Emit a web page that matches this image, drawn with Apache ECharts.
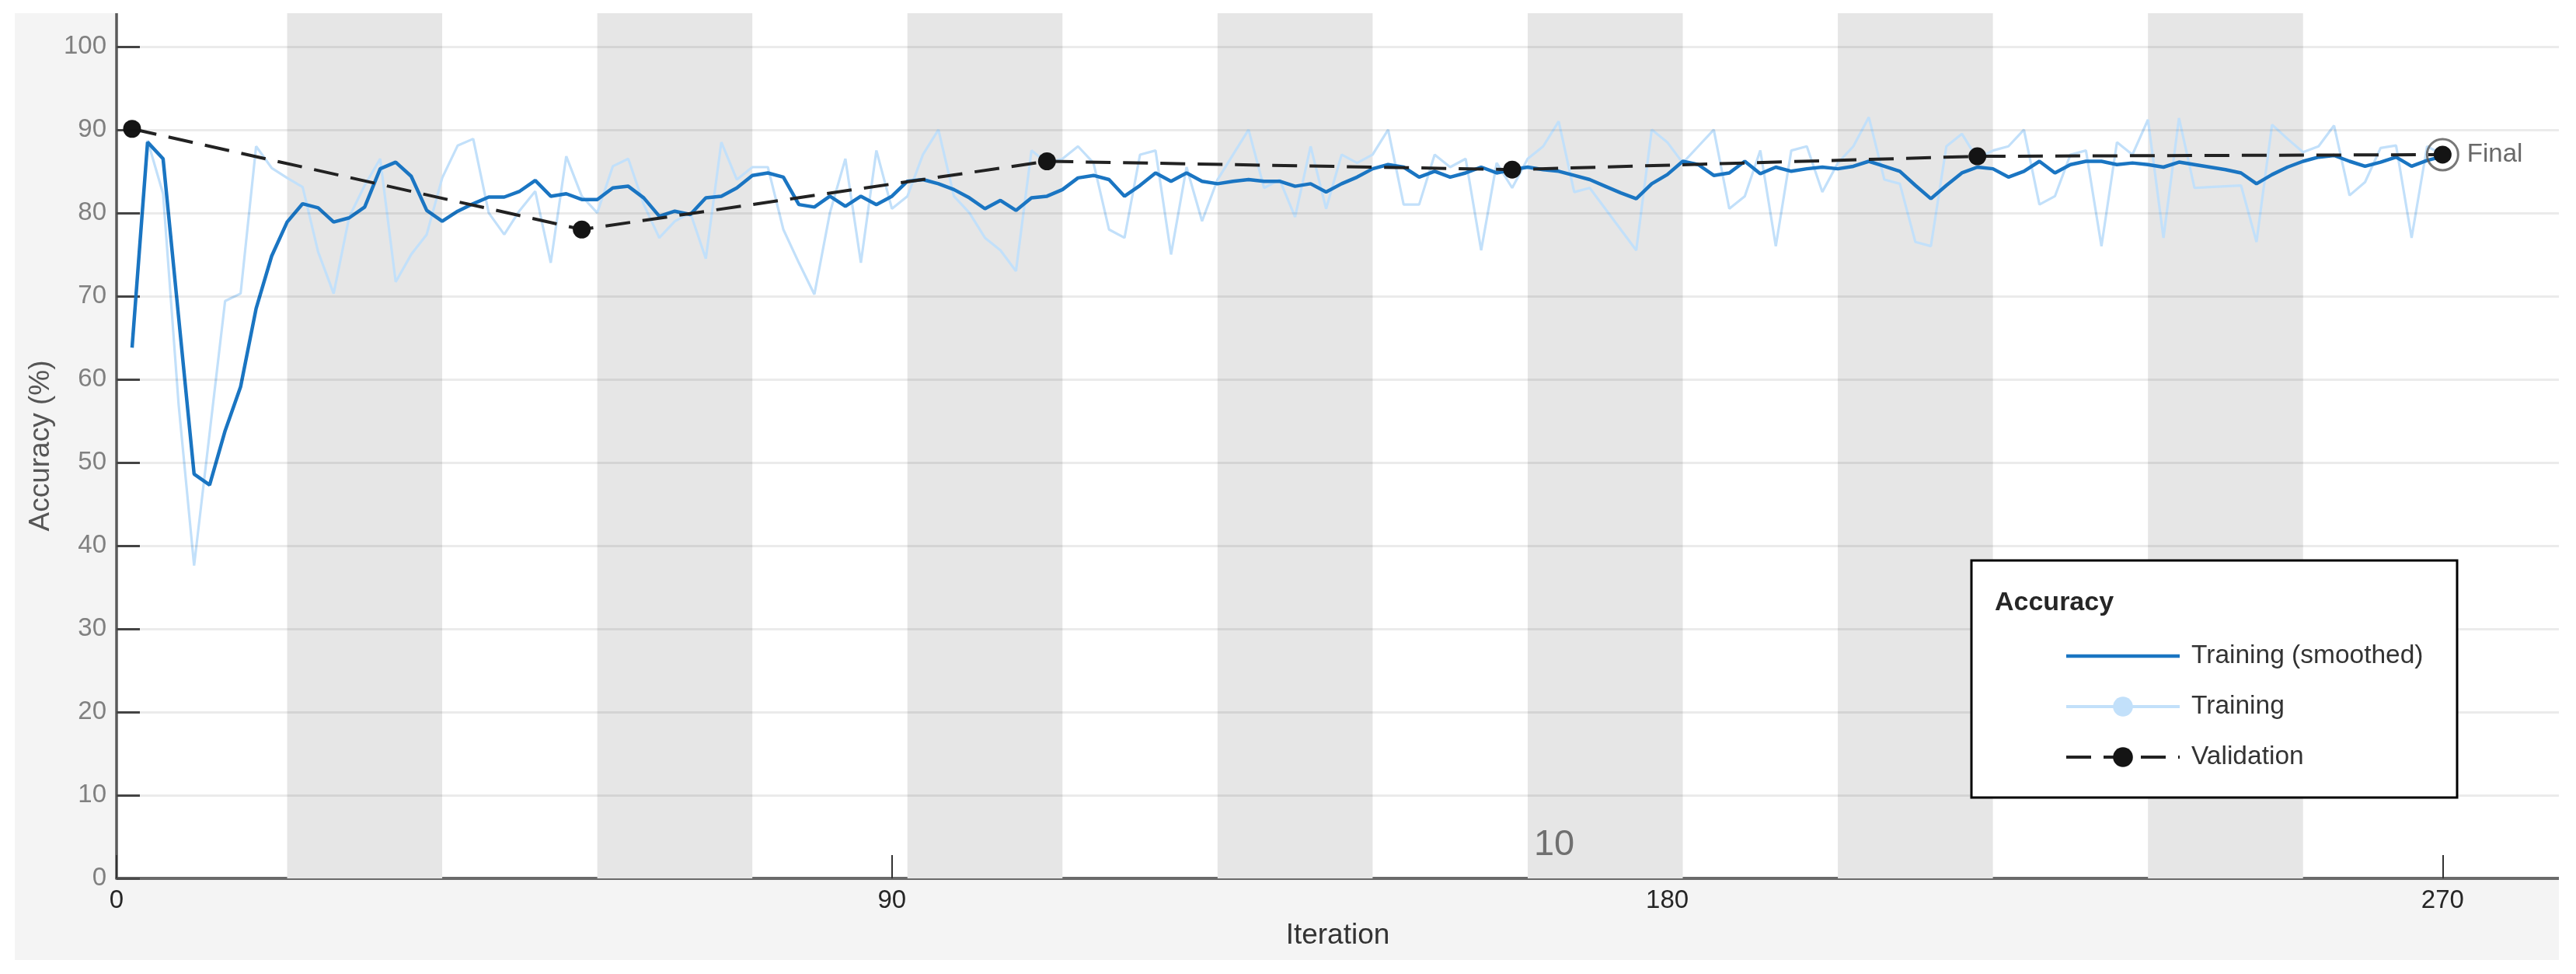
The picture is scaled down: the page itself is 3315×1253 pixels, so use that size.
<!DOCTYPE html>
<html><head><meta charset="utf-8">
<script src="https://cdn.jsdelivr.net/npm/echarts@6/dist/echarts.min.js"></script>
<style>html,body{margin:0;padding:0;background:#fff}#c{width:3315px;height:1253px}</style>
</head><body><div id="c"></div><script>
// ---- data ----
const ITER_STEP = 1.8; // iterations between logged points
const smoothedAcc = [
63.8,88.5,86.5,67.5,48.6,47.3,53.8,59.1,68.5,74.8,
78.9,81.1,80.6,78.9,79.4,80.7,85.3,86.1,84.4,80.3,
79.0,80.2,81.1,81.9,81.9,82.6,83.9,82.0,82.3,81.6,
81.6,83.0,83.2,81.8,79.6,80.2,79.8,81.8,82.0,83.0,
84.5,84.8,84.3,81.0,80.7,82.0,80.8,82.0,81.0,82.0,
83.8,84.0,83.5,82.8,81.8,80.5,81.5,80.3,81.8,82.0,
82.8,84.2,84.5,84.0,82.0,83.3,84.8,83.8,84.8,83.8,
83.5,83.8,84.0,83.8,83.8,83.2,83.5,82.5,83.5,84.3,
85.3,85.8,85.5,84.3,85.0,84.3,84.8,85.5,84.8,85.2,
85.5,85.2,85.0,84.5,84.0,83.2,82.4,81.7,83.5,84.6,
86.2,85.8,84.5,84.8,86.2,84.7,85.5,85.0,85.3,85.5,
85.3,85.6,86.2,85.6,85.0,83.3,81.7,83.3,84.8,85.5,
85.3,84.3,85.0,86.2,84.8,85.8,86.2,86.2,85.8,86.0,
85.8,85.5,86.1,85.8,85.5,85.2,84.8,83.5,84.6,85.5,
86.2,86.7,86.9,86.2,85.6,86.1,86.7,85.6,86.3,86.8];
const trainingAcc = [
64,88.7,82.3,57,37.6,53.5,69.4,70.3,88,85.4,
84.2,83.1,75.3,70.3,79.5,83.3,86.5,71.7,75,77.4,
84.2,88.1,88.9,80,77.4,80.3,82.6,74,86.8,82,
80,85.6,86.5,81,77,79,80,74.5,88.5,84,
85.5,85.5,78,74,70.2,80,86.5,74,87.5,80.5,
82,87,90,82,80,77,75.5,73,87.5,86,
86.5,88,86,78,77,87,87.5,75,85.5,79,
84,87,90,83,84,79.5,88,80.5,87,86,
87,90,81,81,87,85.5,86.5,75.5,86,83,
86.5,88,91,82.5,83,80.5,78,75.5,90,88.5,
86,88,90,80.5,82,87.5,76,87.5,88,82.5,
86,88,91.5,84,83.5,76.5,76,88,89.5,86.5,
87.5,88,90,81,82,87,87.5,76,88.5,87,
91.2,77,91.4,83,83.1,83.2,83.3,76.5,90.6,88.9,
87.3,88,90.5,82.1,83.7,87.8,88.1,77,88,87];
const validationIter = [1.8, 54, 108, 162, 216, 270];
const validationAcc  = [90.1, 78.0, 86.2, 85.2, 86.8, 87.0];
const bandStart = [19.8, 55.8, 91.8, 127.8, 163.8, 199.8, 235.8];
const bandEnd   = [37.8, 73.8, 109.8, 145.8, 181.8, 217.8, 253.8];
const bandEpoch = [2, 4, 6, 8, 10, 12, 14];
const labeledEpochs = [10];
const xTicks = [0, 90, 180, 270];
const yTicks = [0,10,20,30,40,50,60,70,80,90,100];
const yGrid  = [10,20,30,40,50,60,70,80,90,100];

// ---- build ----
const FONT = '"Liberation Sans", Arial, Helvetica, sans-serif';
const C_SMOOTH = '#1a75c2', C_RAW = '#c2e0fa', C_VAL = '#141414';
const toPairs = arr => arr.map((v, i) => [(i + 1) * ITER_STEP, v]);
const valPairs = validationIter.map((x, i) => [x, validationAcc[i]]);
const last = valPairs[valPairs.length - 1];

const bandData = bandStart.map((s, i) => {
  const first = { xAxis: s };
  if (labeledEpochs.includes(bandEpoch[i])) {
    first.label = { show: true, formatter: String(bandEpoch[i]), position: 'insideBottomLeft',
      fontSize: 47, color: '#707070', fontFamily: FONT, offset: [3, -14] };
  }
  return [first, { xAxis: bandEnd[i] }];
});

const chart = echarts.init(document.getElementById('c'), null, { renderer: 'canvas' });
chart.setOption({
  animation: false,
  backgroundColor: '#f4f4f4',
  textStyle: { fontFamily: FONT },
  grid: { left: 150, right: 22, top: 17, bottom: 123, show: true, backgroundColor: '#ffffff', borderWidth: 0 },
  xAxis: {
    type: 'value', min: 0, max: 283.5, interval: 90,
    name: 'Iteration', nameLocation: 'middle', nameGap: 55,
    nameTextStyle: { fontSize: 37, color: '#333333', fontFamily: FONT },
    axisLine: { show: true, onZero: false, lineStyle: { color: '#6a6a6a', width: 4 } },
    axisTick: { show: true, inside: true, length: 30, customValues: xTicks, lineStyle: { color: '#333333', width: 2 } },
    axisLabel: { customValues: xTicks, fontSize: 33, margin: 12, fontFamily: FONT,
      color: v => (v === 0 ? '#808080' : '#262626') },
    splitLine: { show: false }
  },
  yAxis: {
    type: 'value', min: 0, max: 104, interval: 10,
    name: 'Accuracy (%)', nameLocation: 'middle', nameGap: 78, nameRotate: 90,
    nameTextStyle: { fontSize: 37, color: '#555555', fontFamily: FONT },
    axisLine: { show: true, onZero: false, lineStyle: { color: '#5a5a5a', width: 3.5 } },
    axisTick: { show: true, inside: true, length: 30, customValues: yTicks, lineStyle: { color: '#4a4a4a', width: 3 } },
    axisLabel: { customValues: yTicks, fontSize: 33, margin: 13, color: '#808080', fontFamily: FONT },
    splitLine: { show: false }
  },
  legend: {
    data: [
      { name: 'Training (smoothed)', icon: 'path://M0,0 L146,0 L146,4.5 L0,4.5 Z', itemStyle: { color: C_SMOOTH } },
      { name: 'Training', lineStyle: { width: 4, color: C_RAW } },
      { name: 'Validation', lineStyle: { width: 4, color: '#222222' } }
    ],
    orient: 'vertical', left: 2652, top: 822,
    itemWidth: 146, itemHeight: 32, itemGap: 31,
    selectedMode: false, z: 50,
    textStyle: { fontSize: 33.5, color: '#333333', lineHeight: 32, padding: [0, 0, 0, 10], fontFamily: FONT }
  },
  graphic: [
    { type: 'rect', z: 200, shape: { x: 0, y: 0, width: 3315, height: 17 }, style: { fill: '#ffffff' }, silent: true },
    { type: 'rect', z: 200, shape: { x: 0, y: 0, width: 19, height: 1253 }, style: { fill: '#ffffff' }, silent: true },
    { type: 'rect', z: 200, shape: { x: 3293, y: 0, width: 22, height: 1253 }, style: { fill: '#ffffff' }, silent: true },
    { type: 'rect', z: 200, shape: { x: 0, y: 1235, width: 3315, height: 18 }, style: { fill: '#ffffff' }, silent: true },
    { type: 'rect', z: 40, shape: { x: 2537, y: 721, width: 625, height: 305 },
      style: { fill: '#ffffff', stroke: '#000000', lineWidth: 3 }, silent: true },
    { type: 'text', z: 41, x: 2567, y: 776,
      style: { text: 'Accuracy', fill: '#262626', font: 'bold 34px ' + FONT, verticalAlign: 'middle' } }
  ],
  series: [
    { type: 'line', data: [], z: 0, silent: true,
      markArea: { silent: true, itemStyle: { color: '#e6e6e6' }, label: { show: false }, data: bandData } },
    { type: 'line', data: [], z: 1, silent: true,
      markLine: { silent: true, symbol: ['none', 'none'], label: { show: false },
        lineStyle: { color: 'rgba(0,0,0,0.08)', width: 3, type: 'solid' },
        data: yGrid.map(v => ({ yAxis: v })) } },
    { name: 'Training', type: 'line', z: 2, data: toPairs(trainingAcc),
      symbol: 'circle', showSymbol: false, symbolSize: 26,
      itemStyle: { color: C_RAW }, lineStyle: { color: C_RAW, width: 3.2 } },
    { name: 'Training (smoothed)', type: 'line', z: 3, data: toPairs(smoothedAcc),
      symbol: 'none', itemStyle: { color: C_SMOOTH }, lineStyle: { color: C_SMOOTH, width: 4.5 } },
    { name: 'Validation', type: 'line', z: 4, data: valPairs,
      symbol: 'circle', symbolSize: 23, showSymbol: true,
      itemStyle: { color: C_VAL }, lineStyle: { color: '#222222', width: 4, type: [32, 16] } },
    { type: 'scatter', z: 5, data: [last], symbol: 'circle', symbolSize: 40, silent: true,
      itemStyle: { color: 'rgba(255,255,255,0)', borderColor: '#555555', borderWidth: 3 },
      label: { show: true, formatter: 'Final', position: 'right', distance: 10, fontSize: 33, color: '#444444', fontFamily: FONT } }
  ]
});
</script></body></html>
